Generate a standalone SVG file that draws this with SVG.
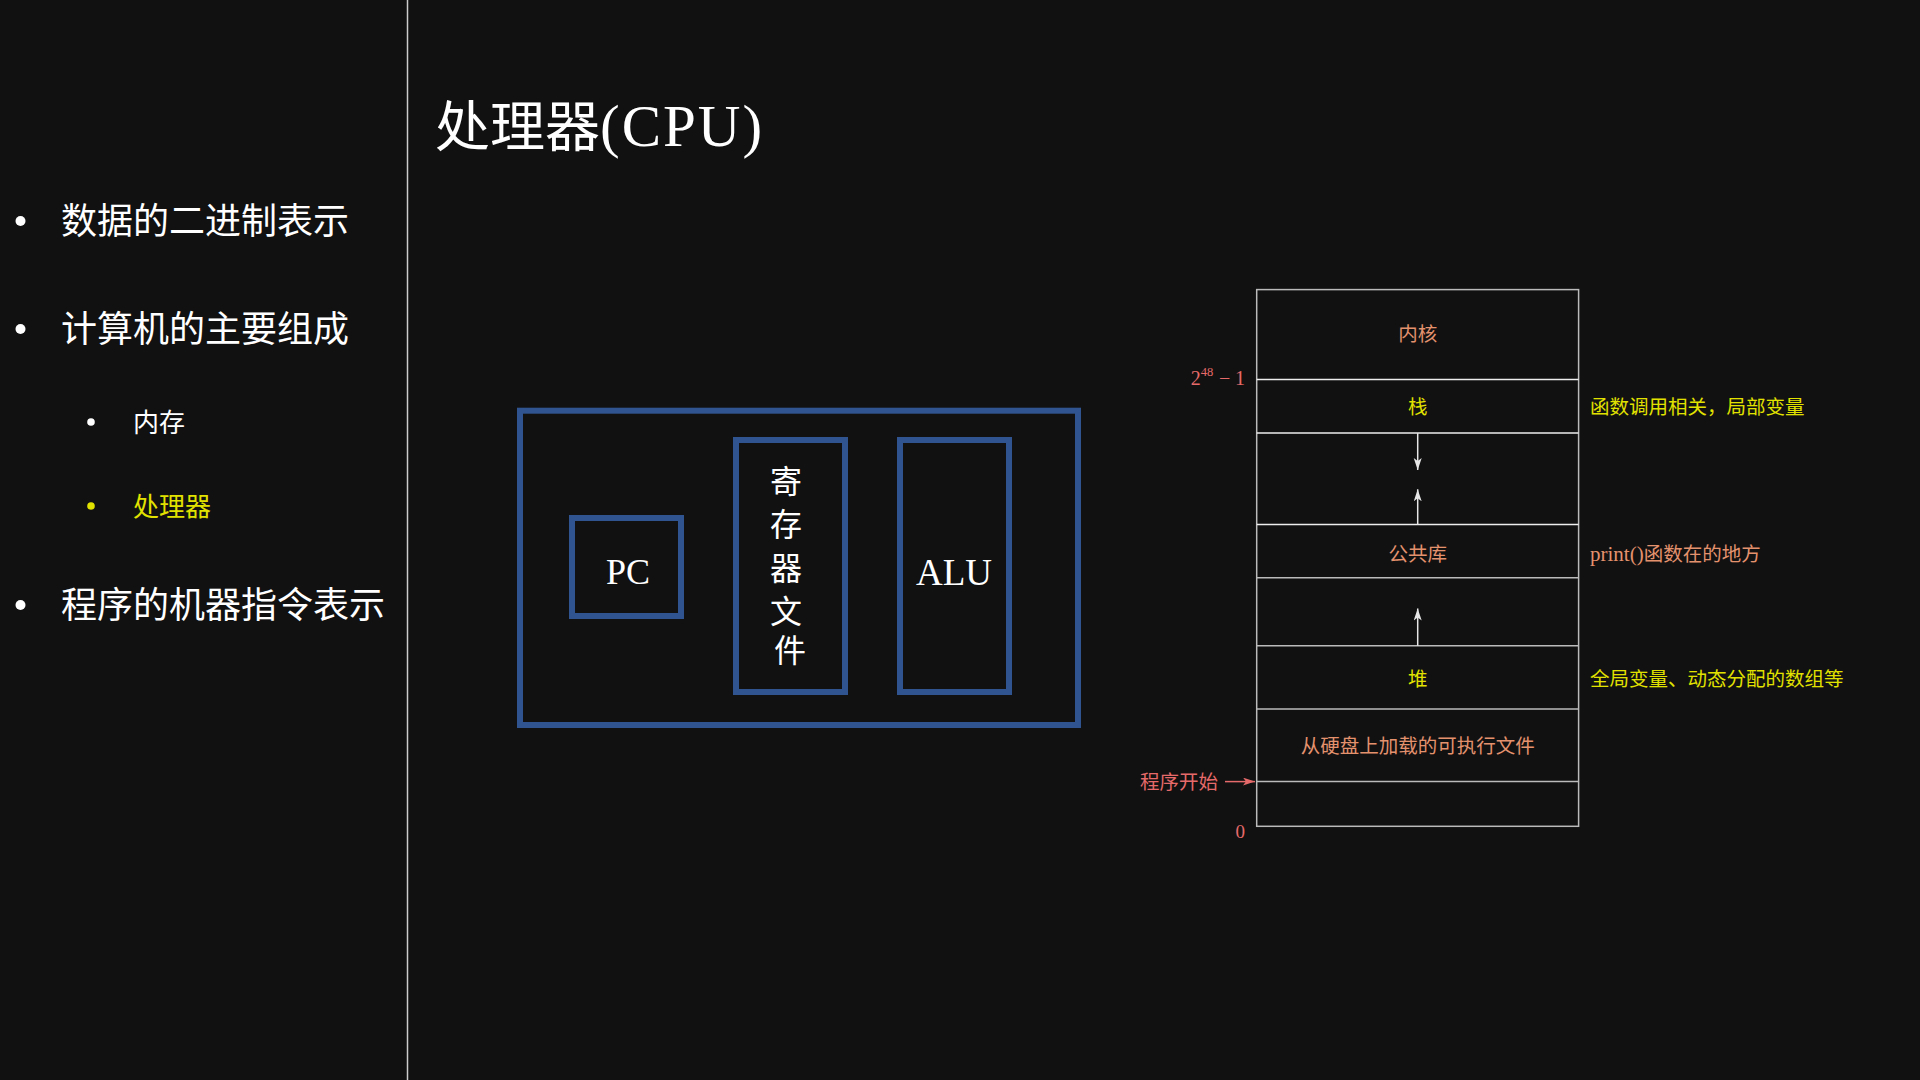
<svg xmlns="http://www.w3.org/2000/svg" width="1920" height="1080" viewBox="0 0 1920 1080">
  <style>
    .serif { font-family: "Liberation Serif", "Noto Sans CJK SC", serif; }
    .white { fill: #ffffff; }
    .yellow { fill: #e2e200; }
    .salmon { fill: #e4926e; }
    .red { fill: #e66a6a; }
    .box { fill: none; stroke: #30548f; stroke-width: 6; }
    .tbl { fill: none; stroke: #bbbbbb; stroke-width: 1.5; }
    .sep { stroke: #eeeeee; stroke-width: 1.5; }
    .sepg { stroke: #bbbbbb; stroke-width: 1.5; }
    .arr { stroke: #e6e6e6; stroke-width: 1.5; fill: none; }
  </style>
  <defs>
    <marker id="ah" markerUnits="userSpaceOnUse" markerWidth="14" markerHeight="10" refX="12" refY="4" orient="auto">
      <path d="M0,0 L12,4 L0,8 L3,4 Z" fill="#e6e6e6"/>
    </marker>
    <marker id="ahr" markerUnits="userSpaceOnUse" markerWidth="14" markerHeight="10" refX="12" refY="4" orient="auto">
      <path d="M0,0 L12,4 L0,8 L3,4 Z" fill="#e66a6a"/>
    </marker>
  </defs>
  <rect width="1920" height="1080" fill="#111111"/>

  <!-- sidebar -->
  <line x1="407.5" y1="0" x2="407.5" y2="1080" stroke="#cccccc" stroke-width="1.5"/>
  <g id="sidebar" class="serif">
    <circle cx="20.5" cy="221" r="5" class="white"/>
    <text x="61" y="234" font-size="36" class="white">数据的二进制表示</text>
    <circle cx="20.5" cy="329" r="5" class="white"/>
    <text x="61" y="342" font-size="36" class="white">计算机的主要组成</text>
    <circle cx="91" cy="422" r="3.8" class="white"/>
    <text x="133" y="431.5" font-size="26" class="white">内存</text>
    <circle cx="91" cy="506" r="3.8" class="yellow"/>
    <text x="133" y="515.5" font-size="26" class="yellow">处理器</text>
    <circle cx="20.5" cy="605" r="5" class="white"/>
    <text x="61" y="618" font-size="36" class="white">程序的机器指令表示</text>
  </g>

  <text id="title" x="435" y="146" font-size="55" class="serif white">处理器<tspan font-size="59" letter-spacing="2">(CPU)</tspan></text>

  <!-- CPU -->
  <g id="cpu">
    <rect x="520" y="410.7" width="558" height="314.3" class="box"/>
  </g>
  <g id="pc">
    <rect x="572" y="518" width="109" height="98" class="box"/>
    <text x="628" y="584" font-size="36" text-anchor="middle" class="serif white">PC</text>
  </g>
  <g id="regfile" class="serif">
    <rect x="736" y="440" width="109" height="252" class="box"/>
    <text x="790" font-size="32" text-anchor="middle" class="white">
      <tspan x="790" y="493">寄</tspan>
      <tspan x="790" y="536">存</tspan>
      <tspan x="790" y="580">器</tspan>
      <tspan x="790" y="623">文</tspan>
      <tspan x="790" y="662">件</tspan>
    </text>
  </g>
  <g id="alu">
    <rect x="900" y="440" width="109" height="252" class="box"/>
    <text x="954" y="585" font-size="37" text-anchor="middle" class="serif white">ALU</text>
  </g>

  <!-- memory layout -->
  <g id="memory" class="serif">
    <rect x="1256.7" y="289.6" width="321.9" height="536.7" class="tbl"/>
    <line x1="1256.7" y1="379.5" x2="1578.6" y2="379.5" class="sep"/>
    <line x1="1256.7" y1="433.1" x2="1578.6" y2="433.1" class="sep"/>
    <line x1="1256.7" y1="524.5" x2="1578.6" y2="524.5" class="sep"/>
    <line x1="1256.7" y1="577.8" x2="1578.6" y2="577.8" class="sepg"/>
    <line x1="1256.7" y1="645.8" x2="1578.6" y2="645.8" class="sepg"/>
    <line x1="1256.7" y1="709.1" x2="1578.6" y2="709.1" class="sepg"/>
    <line x1="1256.7" y1="781.6" x2="1578.6" y2="781.6" class="sepg"/>

    <text x="1417.7" y="340.6" font-size="19.5" text-anchor="middle" class="salmon">内核</text>
    <text x="1417.7" y="414" font-size="19.5" text-anchor="middle" class="yellow">栈</text>
    <text x="1417.7" y="561" font-size="19.5" text-anchor="middle" class="salmon">公共库</text>
    <text x="1417.7" y="686" font-size="19.5" text-anchor="middle" class="yellow">堆</text>
    <text x="1417.7" y="753" font-size="19.5" text-anchor="middle" class="salmon">从硬盘上加载的可执行文件</text>

    <text x="1590" y="414" font-size="19.5" class="yellow">函数调用相关，局部变量</text>
    <text x="1590" y="561" font-size="19.5" class="salmon"><tspan font-size="21">print()</tspan>函数在的地方</text>
    <text x="1590" y="686" font-size="19.5" class="yellow">全局变量、动态分配的数组等</text>

    <text x="1190.7" y="385" font-size="20" class="red">2</text>
    <text x="1200.7" y="376" font-size="12.5" class="red">48</text>
    <text x="1219" y="385" font-size="20" class="red">−</text>
    <text x="1245" y="385" font-size="20" text-anchor="end" class="red">1</text>
    <text x="1245" y="838" font-size="19" text-anchor="end" class="red">0</text>
    <text x="1218" y="788.7" font-size="19.5" text-anchor="end" class="red">程序开始</text>
  </g>

  <g id="connectors">
    <line x1="1417.7" y1="433.1" x2="1417.7" y2="470" class="arr" marker-end="url(#ah)"/>
    <line x1="1417.7" y1="524.5" x2="1417.7" y2="489.3" class="arr" marker-end="url(#ah)"/>
    <line x1="1417.7" y1="645.8" x2="1417.7" y2="608.5" class="arr" marker-end="url(#ah)"/>
    <line x1="1225" y1="781.6" x2="1255" y2="781.6" stroke="#e66a6a" stroke-width="1.5" marker-end="url(#ahr)"/>
  </g>
</svg>
